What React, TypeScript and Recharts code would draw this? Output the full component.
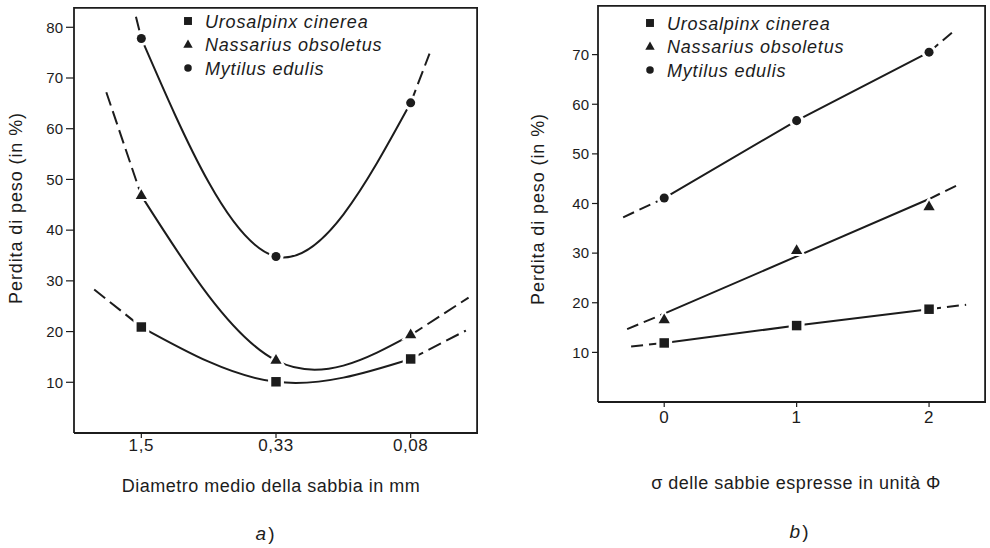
import React from 'react';
import { ComposedChart, Line, Scatter, XAxis, YAxis, Legend, Symbols } from 'recharts';

const FONT = "'Liberation Sans', Arial, Helvetica, sans-serif";
const INK = '#1c1c1c';

const species = ['Urosalpinx cinerea', 'Nassarius obsoletus', 'Mytilus edulis'];
const markers = ['square', 'triangle', 'circle'];

// a) mean sand diameter, categories placed at 0, 1, 2
const diamLabels = ['1,5', '0,33', '0,08'];
const diamPos = [0, 1, 2];
const uroA = [20.9, 10.1, 14.6];
const nasA = [46.8, 14.3, 19.3];
const mytA = [77.8, 34.8, 65.1];
// far ends of the dashed extrapolations [x, y]
const uroAEnds = [[-0.35, 28.3], [2.41, 20.2]];
const nasAEnds = [[-0.26, 67.2], [2.43, 26.7]];
const mytAEnds = [[-0.04, 82.1], [2.14, 74.8]];
const ticksA = [10, 20, 30, 40, 50, 60, 70, 80];

// b) sorting of the sands, sigma in phi units
const sigmaLabels = ['0', '1', '2'];
const sigmaPos = [0, 1, 2];
const uroB = [11.9, 15.4, 18.7];
const nasB = [16.5, 30.5, 39.3];
const mytB = [41.1, 56.7, 70.5];
const nasBFitX = [0, 2];
const nasBFit = [17.8, 40.9];
const uroBEnds = [[-0.25, 11.2], [2.28, 19.6]];
const nasBEnds = [[-0.28, 14.7], [2.23, 43.9]];
const mytBEnds = [[-0.31, 37.2], [2.18, 74.6]];
const ticksB = [10, 20, 30, 40, 50, 60, 70];

const pts = (xs: number[], ys: number[]) => xs.map((x, i) => ({ x, y: ys[i] }));
const pt = (p: number[]) => ({ x: p[0], y: p[1] });

const markSize: Record<string, number> = { square: 90, triangle: 55, circle: 64 };

const markShape = (kind: string) => (p: any) => {
  if (p.cx == null || p.cy == null) return <g />;
  return (
    <g>
      <Symbols cx={p.cx} cy={p.cy} type={kind as any} size={markSize[kind] * 2.8} fill="#fff" />
      <Symbols cx={p.cx} cy={p.cy} type={kind as any} size={markSize[kind]} fill={INK} />
    </g>
  );
};

const LegendBox = () => (
  <div style={{ fontFamily: FONT, fontStyle: 'italic', fontSize: 18, letterSpacing: 0.8, color: INK }}>
    {species.map((s, i) => (
      <div key={s} style={{ display: 'flex', alignItems: 'center', height: 23.5 }}>
        <svg width={23} height={14} style={{ flex: 'none' }}>
          <Symbols cx={6} cy={6} type={markers[i] as any} size={markSize[markers[i]] * 0.7} fill={INK} />
        </svg>
        <span style={{ whiteSpace: 'nowrap' }}>{s}</span>
      </div>
    ))}
  </div>
);

type Pt = { x: number; y: number };
type Series = { points: Pt[]; solid: Pt[]; left: Pt[]; right: Pt[] };

type PanelProps = {
  left: number;
  width: number;
  height: number;
  margin: { top: number; right: number; bottom: number; left: number };
  yWidth: number;
  xHeight: number;
  xDomain: number[];
  yDomain: number[];
  xTicks: number[];
  xLabels: string[];
  yTicks: number[];
  curve: 'natural' | 'linear';
  dash: string;
  series: Series[];
  yTitleX: number;
  yTitleY: number;
  xTitle: string;
  xTitleDy: number;
  xTitleDx: number;
  caption: string;
  captionDy: number;
  captionDx: number;
  legendPos: { left: number; top: number };
  yTickSize: number;
  xTickMargin: number;
};

const frameLine = { stroke: INK, strokeWidth: 1.8 };

const Panel = (cfg: PanelProps) => {
  // plot box, from the layout settings
  const boxLeft = cfg.margin.left + cfg.yWidth;
  const boxRight = cfg.width - cfg.margin.right;
  const boxTop = cfg.margin.top;
  const boxBottom = cfg.height - cfg.margin.bottom - cfg.xHeight;

  // top-left, top-right and bottom-right corners of the domain: closes the box
  const frame = [
    { x: cfg.xDomain[0], y: cfg.yDomain[1] },
    { x: cfg.xDomain[1], y: cfg.yDomain[1] },
    { x: cfg.xDomain[1], y: cfg.yDomain[0] },
  ];

  return (
    <div style={{ position: 'absolute', left: cfg.left, top: 0, width: cfg.width, height: cfg.height }}>
      <ComposedChart width={cfg.width} height={cfg.height} margin={cfg.margin}>
        <XAxis
          dataKey="x"
          type="number"
          domain={cfg.xDomain}
          allowDataOverflow
          ticks={cfg.xTicks}
          tickFormatter={(v: number) => cfg.xLabels[cfg.xTicks.indexOf(v)] ?? ''}
          height={cfg.xHeight}
          tickSize={5}
          tickMargin={cfg.xTickMargin}
          axisLine={frameLine}
          tickLine={{ stroke: INK, strokeWidth: 1.2 }}
          tick={{ fontSize: 17, fill: INK, fontFamily: FONT, letterSpacing: 0.6 }}
          label={{
            content: () => {
              const cx = (boxLeft + boxRight) / 2;
              return (
                <g fontFamily={FONT} fill={INK}>
                  <text x={cx + cfg.xTitleDx} y={boxBottom + cfg.xTitleDy} textAnchor="middle" dominantBaseline="central" fontSize={18} letterSpacing={0.5}>
                    {cfg.xTitle}
                  </text>
                  <text x={cx + cfg.captionDx} y={boxBottom + cfg.captionDy} textAnchor="middle" dominantBaseline="central" fontSize={19}>
                    <tspan fontStyle="italic">{cfg.caption}</tspan>
                    <tspan dx={2}>)</tspan>
                  </text>
                </g>
              );
            },
          }}
        />
        <YAxis
          dataKey="y"
          type="number"
          domain={cfg.yDomain}
          allowDataOverflow
          ticks={cfg.yTicks}
          width={cfg.yWidth}
          tickSize={cfg.yTickSize}
          tickMargin={3}
          axisLine={frameLine}
          tickLine={{ stroke: INK, strokeWidth: 1.2 }}
          tick={{ fontSize: 15, fill: INK, fontFamily: FONT }}
          label={{
            content: () => {
              const x = cfg.margin.left + cfg.yTitleX;
              const y = cfg.yTitleY;
              return (
                <text x={x} y={y} transform={`rotate(-90, ${x}, ${y})`} textAnchor="middle" dominantBaseline="central" fontSize={18} letterSpacing={0.9} fontFamily={FONT} fill={INK}>
                  Perdita di peso (in %)
                </text>
              );
            },
          }}
        />
        {/* frame edges: stroke is clipped to the plot, so half the width shows */}
        <Line data={frame} dataKey="y" type="linear" stroke={INK} strokeWidth={3.6} dot={false} activeDot={false} isAnimationActive={false} legendType="none" />
        {cfg.series.map((s, i) => (
          <Line key={`l${i}`} data={s.left} dataKey="y" type="linear" stroke={INK} strokeWidth={2} strokeDasharray={cfg.dash} dot={false} activeDot={false} isAnimationActive={false} legendType="none" />
        ))}
        {cfg.series.map((s, i) => (
          <Line key={`r${i}`} data={s.right} dataKey="y" type="linear" stroke={INK} strokeWidth={2} strokeDasharray={cfg.dash} dot={false} activeDot={false} isAnimationActive={false} legendType="none" />
        ))}
        {cfg.series.map((s, i) => (
          <Line key={`s${i}`} data={s.solid} dataKey="y" type={cfg.curve} stroke={INK} strokeWidth={2} dot={false} activeDot={false} isAnimationActive={false} legendType="none" />
        ))}
        {cfg.series.map((s, i) => (
          <Scatter key={`p${i}`} name={species[i]} data={s.points} dataKey="y" shape={markShape(markers[i])} isAnimationActive={false} />
        ))}
        <Legend
          layout="vertical"
          align="center"
          verticalAlign="middle"
          content={() => <LegendBox />}
          wrapperStyle={{ left: cfg.legendPos.left, top: cfg.legendPos.top, width: 'auto' }}
        />
      </ComposedChart>
      {/* same edges as plain borders, in case the clipped stroke is lost */}
      <div
        style={{
          position: 'absolute',
          left: boxLeft,
          top: boxTop,
          width: boxRight - boxLeft,
          height: boxBottom - boxTop,
          boxSizing: 'border-box',
          borderTop: `1.8px solid ${INK}`,
          borderRight: `1.8px solid ${INK}`,
          pointerEvents: 'none',
        }}
      />
    </div>
  );
};

const seriesA: Series[] = [
  [uroA, uroAEnds],
  [nasA, nasAEnds],
  [mytA, mytAEnds],
].map(([ys, ends]: any) => {
  const points = pts(diamPos, ys);
  return { points, solid: points, left: [pt(ends[0]), points[0]], right: [points[2], pt(ends[1])] };
});

const uroBPts = pts(sigmaPos, uroB);
const nasBPts = pts(sigmaPos, nasB);
const mytBPts = pts(sigmaPos, mytB);
const nasBLine = pts(nasBFitX, nasBFit);

const seriesB: Series[] = [
  { points: uroBPts, solid: uroBPts, left: [pt(uroBEnds[0]), uroBPts[0]], right: [uroBPts[2], pt(uroBEnds[1])] },
  { points: nasBPts, solid: nasBLine, left: [pt(nasBEnds[0]), nasBLine[0]], right: [nasBLine[1], pt(nasBEnds[1])] },
  { points: mytBPts, solid: mytBPts, left: [pt(mytBEnds[0]), mytBPts[0]], right: [mytBPts[2], pt(mytBEnds[1])] },
];

export default function App() {
  return (
    <div style={{ position: 'absolute', left: 0, top: 0, width: 990, height: 548, background: '#fff', overflow: 'hidden' }}>
      <Panel
        left={0}
        width={490}
        height={548}
        margin={{ top: 7, right: 12, bottom: 5, left: 0 }}
        yWidth={74}
        xHeight={110}
        xDomain={[-0.5, 2.5]}
        yDomain={[0, 84]}
        xTicks={diamPos}
        xLabels={diamLabels}
        yTicks={ticksA}
        curve="natural"
        dash="14 6"
        series={seriesA}
        yTitleX={16}
        yTitleY={208}
        xTitle="Diametro medio della sabbia in mm"
        xTitleDy={53}
        xTitleDx={-5}
        caption="a"
        captionDy={100}
        captionDx={-11}
        legendPos={{ left: 182, top: 10.5 }}
        yTickSize={8}
        xTickMargin={1}
      />
      <Panel
        left={500}
        width={490}
        height={548}
        margin={{ top: 5, right: 4, bottom: 6, left: 0 }}
        yWidth={98}
        xHeight={140}
        xDomain={[-0.5, 2.43]}
        yDomain={[0, 80]}
        xTicks={sigmaPos}
        xLabels={sigmaLabels}
        yTicks={ticksB}
        curve="linear"
        dash="12 6"
        series={seriesB}
        yTitleX={38}
        yTitleY={209}
        xTitle="σ delle sabbie espresse in unità Φ"
        xTitleDy={81}
        xTitleDx={4}
        caption="b"
        captionDy={129}
        captionDx={7}
        legendPos={{ left: 144, top: 12.5 }}
        yTickSize={6}
        xTickMargin={4}
      />
    </div>
  );
}
